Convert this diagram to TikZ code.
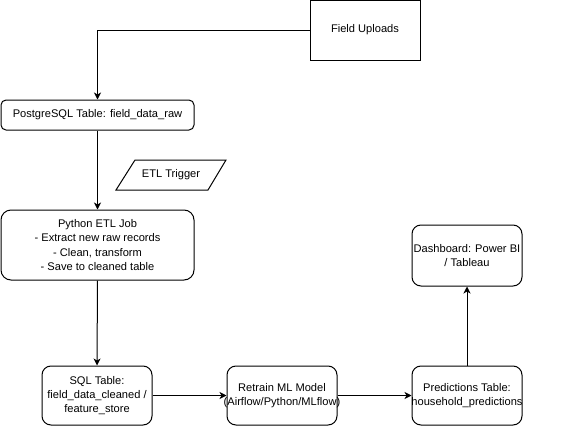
\documentclass[tikz,border=0pt]{standalone}
\usepackage{fontspec}
\setmainfont{Liberation Sans}
\usetikzlibrary{arrows.meta}
\tikzset{
  box/.style={draw=black, line width=1pt, fill=white, inner sep=0pt},
  txt/.style={align=center, inner sep=0pt, font=\fontsize{11.1}{14.3}\selectfont},
  arr/.style={draw=black, line width=1pt, -{Stealth[length=7pt,width=7pt,inset=2pt]}},
  para/.style={draw=black, line width=1pt, fill=white, line join=miter},
}
\begin{document}
\begin{tikzpicture}[x=1pt,y=-1pt]
\useasboundingbox (0,0) rectangle (566,426);
\fill[white] (0,0) rectangle (566,426);
\node[box, minimum width=110pt, minimum height=60pt] (fu) at (365,30) {};
\node[txt] (fut) at (fu) {Field Uploads};
\node[box, rounded corners=5pt, minimum width=193pt, minimum height=30pt] (pg) at (97.5,115) {};
\node[txt] (pgt) at (pg) {PostgreSQL Table: field\_data\_raw};
\draw[para] (135,160) -- (226,160) -- (208,190) -- (116,190) -- cycle;
\node[txt] (trig) at (171,175) {ETL Trigger};
\node[box, rounded corners=10pt, minimum width=193pt, minimum height=70pt] (etl) at (97.5,245) {};
\node[txt] (etlt) at (etl) {Python ETL Job\\- Extract new raw records\\- Clean, transform\\- Save to cleaned table};
\node[box, rounded corners=9pt, minimum width=110pt, minimum height=59pt] (sql) at (97,395.5) {};
\node[txt] (sqlt) at (sql) {SQL Table:\\field\_data\_cleaned /\\feature\_store};
\node[box, rounded corners=9pt, minimum width=110pt, minimum height=59pt] (ml) at (282,395.5) {};
\node[txt] (mlt) at (ml) {Retrain ML Model\\(Airflow/Python/MLflow)};
\node[box, rounded corners=9pt, minimum width=110pt, minimum height=59pt] (pred) at (467,395.5) {};
\node[txt] (predt) at (pred) {Predictions Table:\\household\_predictions};
\node[box, rounded corners=9pt, minimum width=110pt, minimum height=61pt] (dash) at (467,255.5) {};
\node[txt] (dasht) at (dash) {Dashboard: Power BI\\/ Tableau};
\draw[arr] (fu.west) -| (pg.north);
\draw[arr] (pg.south) -- (etl.north);
\draw[arr] (etl.south) -- (sql.north);
\draw[arr] (sql.east) -- (ml.west);
\draw[arr] (ml.east) -- (pred.west);
\draw[arr] (pred.north) -- (dash.south);
\end{tikzpicture}
\end{document}
